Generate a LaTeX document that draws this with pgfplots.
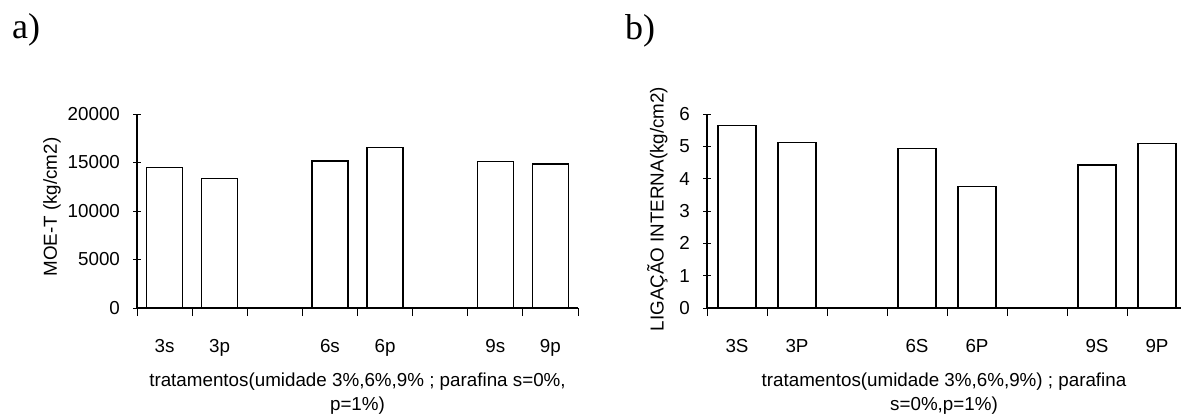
\documentclass[border=0pt]{standalone}
\usepackage{fontspec}
\setmainfont{Liberation Sans}
\newfontfamily\serifabc{Liberation Serif}
\usepackage{pgfplots}
\pgfplotsset{compat=1.18}
\begin{document}
\begin{tikzpicture}
\useasboundingbox (0,0) rectangle (590.5pt,207pt);
\pgfplotsset{
  mybar/.style={
    scale only axis,
    anchor=south west,
    height=97pt,
    xmin=-0.5,
    ymin=0,
    axis x line*=bottom,
    axis y line*=left,
    axis line style={-, line width=0.7pt},
    xtick={0,1,3,4,6,7},
    major x tick style={draw=none},
    minor xtick={-0.5,0.5,1.5,2.5,3.5,4.5,5.5,6.5,7.5},
    minor tick length=4pt,
    major tick length=4pt,
    tick align=center,
    tick style={black, line width=0.5pt},
    ytick pos=left,
    xtick pos=bottom,
    scaled y ticks=false,
    /pgf/number format/assume math mode=true,
    /pgf/number format/1000 sep={},
    tick label style={font=\fontsize{9.4}{10}\selectfont},
    xticklabel style={yshift=-8pt},
    yticklabel style={xshift=-3pt},
    label style={font=\fontsize{9.4}{12}\selectfont},
    ybar,
    clip=false,
  }
}
% ---- a) ----
\node[font=\serifabc\fontsize{18}{20}\selectfont, anchor=center] at (13pt,192pt) {a)};
\begin{axis}[mybar,
  at={(68.5pt,53pt)},
  width=220.5pt,
  xmax=7.5,
  ymax=20000,
  ytick={0,5000,10000,15000,20000},
  xticklabels={3s,3p,6s,6p,9s,9p},
  bar width=18pt,
  ylabel={MOE-T (kg/cm2)},
  ylabel style={at={(axis description cs:-0.193,0.52)}, anchor=center},
  xlabel={tratamentos(umidade 3\%,6\%,9\% ; parafina s=0\%,\\p=1\%)},
  xlabel style={align=center, at={(axis description cs:0.5,-0.30)}, anchor=north},
]
\addplot[fill=white, draw=black, line width=0.6pt] coordinates {(0,14450) (1,13350) (3,15150) (4,16550) (6,15100) (7,14850)};
\end{axis}
% ---- b) ----
\node[font=\serifabc\fontsize{18}{20}\selectfont, anchor=center] at (320pt,191.5pt) {b)};
\begin{axis}[mybar,
  at={(353.5pt,53pt)},
  width=237pt,
  xmax=7.4,
  ymax=6,
  ytick={0,1,2,3,4,5,6},
  xticklabels={3S,3P,6S,6P,9S,9P},
  bar width=19pt,
  ylabel={LIGAÇÃO INTERNA(kg/cm2)},
  ylabel style={at={(axis description cs:-0.105,0.51)}, anchor=center},
  xlabel={tratamentos(umidade 3\%,6\%,9\%) ; parafina\\s=0\%,p=1\%)},
  xlabel style={align=center, at={(axis description cs:0.5,-0.30)}, anchor=north},
]
\addplot[fill=white, draw=black, line width=0.6pt] coordinates {(0,5.64) (1,5.12) (3,4.93) (4,3.76) (6,4.42) (7,5.08)};
\end{axis}
\end{tikzpicture}
\end{document}
